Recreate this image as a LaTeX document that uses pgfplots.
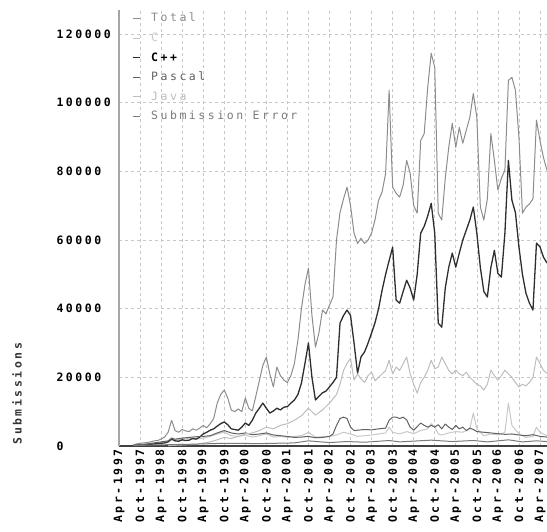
\documentclass[border=0pt]{standalone}
\usepackage{fontspec}
\setmainfont{DejaVu Sans Mono}[LetterSpace=22]
\usepackage{pgfplots}
\pgfplotsset{compat=1.18}
\definecolor{cTotal}{HTML}{8C8C8C}
\definecolor{cC}{HTML}{C8C8C8}
\definecolor{cCpp}{HTML}{2E2E2E}
\definecolor{cPascal}{HTML}{616161}
\definecolor{cJava}{HTML}{BDBDBD}
\definecolor{cErr}{HTML}{7A7A7A}
\begin{document}
\begin{tikzpicture}
\useasboundingbox (-119pt,-85pt) rectangle (428pt,446pt);
\begin{axis}[
  at={(0pt,0pt)}, anchor=south west,
  width=428pt, height=436pt, scale only axis,
  xmin=0, xmax=122, ymin=0, ymax=127000,
  axis x line=bottom, axis y line=left,
  x axis line style={-, color=black!75, line width=2.2pt},
  y axis line style={-, color=black!35, line width=2.5pt},
  xtick={0,6,...,120},
  xticklabels={Apr-1997,Oct-1997,Apr-1998,Oct-1998,Apr-1999,Oct-1999,Apr-2000,Oct-2000,Apr-2001,Oct-2001,Apr-2002,Oct-2002,Apr-2003,Oct-2003,Apr-2004,Oct-2004,Apr-2005,Oct-2005,Apr-2006,Oct-2006,Apr-2007},
  xticklabel style={rotate=90, anchor=east, font=\fontsize{11.5}{13}\selectfont\bfseries},
  ytick={0,20000,...,120000},
  scaled y ticks=false,
  /pgf/number format/assume math mode=true,
  yticklabel style={/pgf/number format/fixed, /pgf/number format/1000 sep={}, anchor=west, xshift=-66pt, font=\fontsize{11.5}{13}\selectfont\bfseries},
  major tick length=0pt,
  grid=major,
  major grid style={color=black!22, dash pattern=on 3pt off 3pt, line width=0.6pt},
  ylabel={Submissions},
  ylabel style={at={(axis description cs:-0.238,0.12)}, anchor=center, font=\fontsize{11.5}{13}\selectfont\bfseries, color=black!80},
  legend style={at={(0,1)}, anchor=north west, xshift=10pt, yshift=1pt, draw=none, fill=none, font=\fontsize{11.5}{13}\selectfont, row sep=5.5pt, /tikz/every odd column/.append style={column sep=9pt}},
  legend cell align=left,
  legend image code/.code={\draw[#1, line width=1pt] (0pt,0pt) -- (7pt,0pt);},
  every axis plot/.append style={line width=1pt, line join=round},
]
\addplot[color=cTotal] coordinates {(4,300)(5,600)(6,800)(7,900)(8,1000)(9,1200)(10,1500)(11,1600)(12,2000)(13,2600)(14,4000)(15,7500)(16,4500)(17,4000)(18,4800)(19,4400)(20,4200)(21,5000)(22,4600)(23,5200)(24,6000)(25,5300)(26,6500)(27,8000)(28,12500)(29,15000)(30,16300)(31,14000)(32,10500)(33,10000)(34,10800)(35,10000)(36,14000)(37,11000)(38,10200)(39,14500)(40,19000)(41,23500)(42,25900)(43,21000)(44,17200)(45,23000)(46,20500)(47,19200)(48,18500)(49,20500)(50,24000)(51,30800)(52,40000)(53,47000)(54,51800)(55,38000)(56,28800)(57,33000)(58,39600)(59,38500)(60,41000)(61,43400)(62,60000)(63,68000)(64,72000)(65,75400)(66,70000)(67,62000)(68,59000)(69,60500)(70,59000)(71,60000)(72,62000)(73,66000)(74,71600)(75,74000)(76,79400)(77,103600)(78,75400)(79,73600)(80,72500)(81,76000)(82,83200)(83,79400)(84,70000)(85,67800)(86,89000)(87,91000)(88,104500)(89,114400)(90,110300)(91,67800)(92,65800)(93,78000)(94,87000)(95,94000)(96,87000)(97,92800)(98,88200)(99,92000)(100,95700)(101,102700)(102,95700)(103,69600)(104,65800)(105,72000)(106,91000)(107,83200)(108,74500)(109,78000)(110,80300)(111,106500)(112,107400)(113,103600)(114,90000)(115,67800)(116,69600)(117,70500)(118,72000)(119,94900)(120,89000)(121,84000)(122,80300)};
\addlegendentry{\textcolor{cTotal}{Total}}
\addplot[color=cC] coordinates {(4,200)(6,300)(8,500)(10,700)(12,1000)(14,1300)(15,2500)(16,1800)(18,2000)(20,2200)(22,2000)(24,2300)(26,2800)(28,3500)(30,4000)(32,3000)(34,2800)(36,3200)(38,2600)(40,3000)(42,3500)(44,2600)(46,2800)(48,2500)(50,2800)(52,3000)(54,4000)(56,2600)(58,2700)(60,2800)(62,3200)(64,4000)(66,3500)(68,2800)(70,3000)(72,3200)(74,3500)(76,3800)(77,5500)(78,4000)(80,3500)(82,4200)(84,3600)(86,4500)(88,5000)(89,6500)(90,5500)(91,3500)(92,3200)(94,3800)(96,4200)(98,4000)(100,5000)(101,9600)(102,5000)(104,3000)(106,3500)(108,3200)(110,4000)(111,12500)(112,6000)(114,3500)(116,2500)(118,2800)(119,5500)(120,4000)(122,3000)};
\addlegendentry{\textcolor{cC}{C}}
\addplot[color=cCpp, line width=1.3pt] coordinates {(4,100)(5,200)(6,300)(7,300)(8,400)(9,500)(10,600)(11,700)(12,800)(13,900)(14,1200)(15,2000)(16,1500)(17,1400)(18,1800)(19,1600)(20,1700)(21,2200)(22,2000)(23,2600)(24,3500)(25,4000)(26,4600)(27,5000)(28,5800)(29,6500)(30,7000)(31,6200)(32,5000)(33,4800)(34,4600)(35,5500)(36,6700)(37,6000)(38,7500)(39,9600)(40,11000)(41,12500)(42,11000)(43,9600)(44,10200)(45,11000)(46,10500)(47,11300)(48,11500)(49,12500)(50,13400)(51,15000)(52,18300)(53,24000)(54,30000)(55,20000)(56,13400)(57,14500)(58,15500)(59,16000)(60,17200)(61,18500)(62,20000)(63,35800)(64,38000)(65,39600)(66,38000)(67,30000)(68,21200)(69,26000)(70,27400)(71,30000)(72,32900)(73,36000)(74,40000)(75,45400)(76,50000)(77,54000)(78,57900)(79,42500)(80,41600)(81,45000)(82,48300)(83,46000)(84,42500)(85,50000)(86,62000)(87,64000)(88,67000)(89,70700)(90,62000)(91,35800)(92,34600)(93,46000)(94,52100)(95,56200)(96,52100)(97,56200)(98,60000)(99,62900)(100,65800)(101,69600)(102,62000)(103,52000)(104,45000)(105,43400)(106,52000)(107,57000)(108,50300)(109,49200)(110,62000)(111,83200)(112,71600)(113,68000)(114,58000)(115,50000)(116,44500)(117,41600)(118,39600)(119,59100)(120,58000)(121,55000)(122,53300)};
\addlegendentry{\textcolor{black}{\bfseries C++}}
\addplot[color=cPascal] coordinates {(4,200)(6,400)(8,600)(10,900)(12,1200)(14,1500)(15,2200)(16,2000)(18,2300)(20,2500)(22,2700)(24,2800)(26,3000)(28,3800)(30,4500)(32,3800)(34,3500)(36,3800)(38,3300)(40,3500)(42,3800)(44,3200)(46,3000)(48,2800)(50,2500)(52,2600)(54,2800)(56,2400)(58,2500)(60,2800)(61,3500)(62,6000)(63,8000)(64,8400)(65,8000)(66,5500)(67,4500)(68,4600)(70,4800)(72,4700)(74,5000)(76,5200)(77,7500)(78,8400)(79,8400)(80,8000)(81,8400)(82,7600)(83,5500)(84,4600)(86,6700)(87,6000)(88,5500)(89,6000)(90,5500)(91,6200)(92,5000)(93,6400)(94,5500)(95,4800)(96,6000)(97,5000)(98,5500)(99,4500)(100,5200)(101,4800)(102,4200)(104,4000)(106,3800)(108,3600)(110,3400)(112,3500)(114,3200)(116,3000)(118,3300)(120,2800)(122,2600)};
\addlegendentry{\textcolor{cPascal}{Pascal}}
\addplot[color=cJava] coordinates {(14,100)(18,300)(22,500)(26,1200)(28,1800)(30,2500)(32,2200)(34,2800)(36,3500)(38,3800)(40,4500)(42,5500)(44,5000)(46,6000)(48,6500)(50,7500)(52,8800)(54,11000)(56,9000)(58,10500)(60,12500)(62,15000)(63,18000)(64,22000)(65,24100)(66,25500)(67,19200)(68,21000)(69,19500)(70,18500)(71,20500)(72,21500)(73,19000)(74,20000)(75,21000)(76,22000)(77,25000)(78,21000)(79,23000)(80,22000)(81,24000)(82,25900)(83,21000)(84,18000)(85,15400)(86,18500)(87,20000)(88,22000)(89,25000)(90,22500)(91,23000)(92,25900)(93,24000)(94,22000)(95,21000)(96,22100)(97,21000)(98,20500)(99,21500)(100,20000)(101,19000)(102,18000)(103,17500)(104,16300)(105,18000)(106,22100)(107,20500)(108,19200)(109,20500)(110,22100)(111,21000)(112,20000)(113,18500)(114,17200)(115,18000)(116,17500)(117,18500)(118,20000)(119,25900)(120,24000)(121,22000)(122,21200)};
\addlegendentry{\textcolor{cJava}{Java}}
\addplot[color=cErr] coordinates {(4,100)(10,300)(20,500)(30,800)(40,700)(50,900)(54,1500)(60,1000)(65,1300)(70,1100)(77,1600)(80,1200)(89,1700)(95,1300)(101,1600)(105,1200)(111,1800)(115,1200)(119,1500)(122,1300)};
\addlegendentry{\textcolor{cErr}{Submission Error}}
\end{axis}
\end{tikzpicture}
\end{document}
